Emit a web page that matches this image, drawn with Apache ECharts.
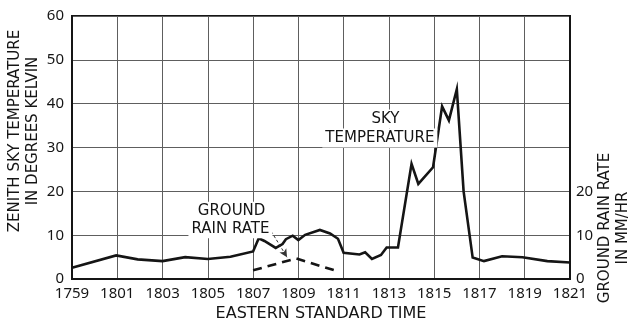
<!DOCTYPE html>
<html>
<head>
<meta charset="utf-8">
<script src="https://cdn.jsdelivr.net/npm/echarts@6/dist/echarts.min.js"></script>
<style>
  html, body { margin: 0; padding: 0; background: #fff; }
  #chart { width: 638px; height: 327px; }
</style>
</head>
<body>
<div id="chart"></div>
<script>
// Time axis: minutes after 17:59 EST, labelled with clock readings
const tickLabels = ['1759', '1801', '1803', '1805', '1807', '1809', '1811', '1813', '1815', '1817', '1819', '1821'];

// Zenith sky temperature (K) against minutes after 17:59
const skyMinutes = [0, 1.95, 2.9, 4, 5, 6, 7, 8, 8.25, 8.5, 9.0, 9.3, 9.45, 9.75, 10.0, 10.3, 10.95, 11.4, 11.75, 12.0,
  12.7, 12.95, 13.25, 13.65, 13.9, 14.4, 15.0, 15.3, 15.95, 16.35, 16.65, 17.0, 17.3, 17.7, 18.2, 19.0, 19.9, 21.0, 22];
const skyTemp = [2.6, 5.4, 4.5, 4.1, 5.0, 4.6, 5.1, 6.3, 9.3, 8.7, 7.1, 8.0, 9.1, 9.9, 8.9, 10.1, 11.2, 10.4, 9.2, 6.0,
  5.6, 6.1, 4.6, 5.5, 7.2, 7.2, 26.3, 21.7, 25.5, 39.4, 36.2, 43.3, 20.0, 4.9, 4.1, 5.2, 5.0, 4.1, 3.8];

// Ground rain rate (mm/hr)
const rainMinutes = [8, 9.9, 11.6];
const rainRate = [2.0, 4.7, 2.0];

// Right-hand axis values that carry labels
const rainTicks = [0, 10, 20];

const FONT = 'DejaVu Sans';
const INK = '#151515';

const chart = echarts.init(document.getElementById('chart'), null, { renderer: 'canvas' });

const zip = (xs, ys) => xs.map((x, i) => [x, ys[i]]);

chart.setOption({
  animation: false,
  backgroundColor: '#ffffff',
  grid: {
    left: 72, right: 68, top: 16, bottom: 42,
    show: true, borderColor: INK, borderWidth: 2, backgroundColor: 'transparent'
  },
  xAxis: {
    type: 'value', min: 0, max: 22, interval: 2,
    axisLine: { show: true, lineStyle: { color: INK, width: 2 } },
    axisTick: { show: false },
    splitLine: { show: true, lineStyle: { color: '#5e5e5e', width: 1 } },
    axisLabel: {
      margin: 7, color: INK, fontFamily: 'Noto Sans', fontSize: 15,
      formatter: v => tickLabels[Math.round(v / 2)]
    },
    name: 'EASTERN STANDARD TIME', nameLocation: 'middle', nameGap: 25,
    nameTextStyle: { color: INK, fontFamily: FONT, fontSize: 16, verticalAlign: 'top' }
  },
  yAxis: [{
    type: 'value', min: 0, max: 60, interval: 10,
    axisLine: { show: true, lineStyle: { color: INK, width: 2 } },
    axisTick: { show: false },
    splitLine: { show: true, lineStyle: { color: '#5e5e5e', width: 1 } },
    axisLabel: { margin: 8, color: INK, fontFamily: 'Noto Sans', fontSize: 15 }
  }, {
    type: 'value', min: 0, max: 60, interval: 10, position: 'right',
    axisLine: { show: true, lineStyle: { color: INK, width: 2 } },
    axisTick: { show: false },
    splitLine: { show: false },
    axisLabel: {
      margin: 6, color: INK, fontFamily: 'Noto Sans', fontSize: 15,
      formatter: v => (rainTicks.indexOf(v) >= 0 ? String(v) : '')
    }
  }],
  series: [{
    name: 'SKY TEMPERATURE', type: 'line', yAxisIndex: 0,
    data: zip(skyMinutes, skyTemp),
    showSymbol: false, symbol: 'none',
    lineStyle: { color: INK, width: 2.6, join: 'miter' }
  }, {
    name: 'GROUND RAIN RATE', type: 'line', yAxisIndex: 1,
    data: zip(rainMinutes, rainRate),
    showSymbol: false, symbol: 'none',
    lineStyle: { color: INK, width: 2.6, type: [9, 6] },
    markLine: {
      silent: true,
      symbolSize: [6, 8],
      lineStyle: { color: '#333', width: 1, type: [3, 2] },
      label: { show: false },
      data: [[
        { coord: [8.8, 10.9], symbol: 'none' },
        { coord: [9.5, 5.0], symbol: 'arrow' }
      ]]
    }
  }]
});

// Text placed in data units so it follows the axes (anchor sits at the text baseline side)
function place(x, y) { return chart.convertToPixel({ gridIndex: 0 }, [x, y]); }

const notes = [
  { text: 'GROUND', at: [7.05, 15.5] },
  { text: 'RAIN RATE', at: [7.0, 11.5] },
  { text: 'SKY', at: [13.85, 36.5] },
  { text: 'TEMPERATURE', at: [13.6, 32.2] }
];

chart.setOption({
  graphic: notes.map(n => {
    const p = place(n.at[0], n.at[1]);
    return {
      type: 'text', x: p[0], y: p[1], z: 100,
      style: {
        text: n.text, fill: INK, font: '15px "' + FONT + '"',
        align: 'center', verticalAlign: 'middle',
        backgroundColor: '#fff', padding: [2, 3]
      }
    };
  }).concat([{
    type: 'text', x: 24, y: 131, rotation: Math.PI / 2, z: 100,
    style: {
      text: 'ZENITH SKY TEMPERATURE\nIN DEGREES KELVIN', fill: INK,
      font: '15px "' + FONT + '"', lineHeight: 18,
      align: 'center', verticalAlign: 'middle'
    }
  }, {
    type: 'text', x: 614, y: 228, rotation: Math.PI / 2, z: 100,
    style: {
      text: 'GROUND RAIN RATE\nIN MM/HR', fill: INK,
      font: '15px "' + FONT + '"', lineHeight: 18,
      align: 'center', verticalAlign: 'middle'
    }
  }])
});
</script>
</body>
</html>
